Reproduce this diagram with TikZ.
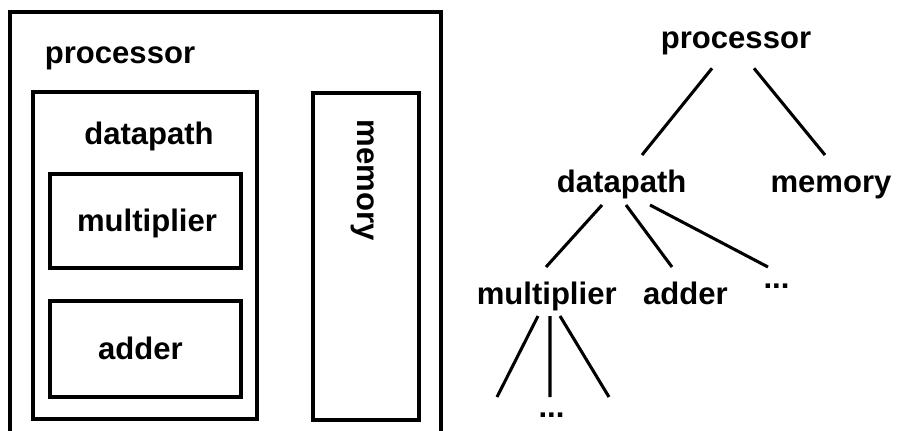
\documentclass[tikz,border=0pt]{standalone}
\usepackage{fontspec}
\setmainfont{Liberation Sans}
\usetikzlibrary{fit,calc}
\begin{document}
\begin{tikzpicture}[x=0.75pt,y=-0.75pt,
  box/.style={draw, line width=3pt, inner sep=0pt},
  lbl/.style={font=\fontsize{23.3}{28}\selectfont\bfseries, inner sep=0pt, anchor=base},
  edge/.style={line width=2.3pt}]
\useasboundingbox (0,0) rectangle (897,430);
\clip (0,0) rectangle (897,430);
% left panel: nested boxes
\node[box, fit={(9.5,12) (441,460)}] (outer) {};
\node[box, fit={(33,92) (257,419)}] (dpbox) {};
\node[box, fit={(50,174) (241,267.5)}] (mulbox) {};
\node[box, fit={(50,301) (241,396.5)}] (addbox) {};
\node[box, fit={(313,93) (419,420)}] (membox) {};
\node[lbl] (lproc) at (120,63.3) {processor};
\node[lbl] (ldp) at (149,144) {datapath};
\node[lbl] (lmul) at (147,231.7) {multiplier};
\node[lbl] (ladd) at (140.5,359.3) {adder};
\node[lbl, rotate=-90] (lmem) at (357,180) {memory};
% right panel: tree
\node[lbl] (tp) at (736,48.3) {processor};
\node[lbl] (td) at (621.7,192.7) {datapath};
\node[lbl] (tm) at (831,192.7) {memory};
\node[lbl] (tmul) at (546.7,304) {multiplier};
\node[lbl] (tadd) at (685.5,304) {adder};
\node[lbl] (tdots) at (776.5,288.3) {...};
\node[lbl] (tdd) at (551.5,417) {...};
\draw[edge] ($(tp.base)+(-24,20)$) -- ($(td.base)+(20.3,-37.7)$);
\draw[edge] ($(tp.base)+(18,20)$) -- ($(tm.base)+(-6,-37.7)$);
\draw[edge] ($(td.base)+(-19.7,12.3)$) -- ($(tmul.base)+(-0.7,-37)$);
\draw[edge] ($(td.base)+(4.3,12.3)$) -- ($(tadd.base)+(-13.5,-37)$);
\draw[edge] ($(td.base)+(28.3,12.3)$) -- ($(tdots.base)+(-8.5,-21.3)$);
\draw[edge] ($(tmul.base)+(-8.7,12)$) -- ($(tdd.base)+(-54.5,-20)$);
\draw[edge] ($(tmul.base)+(3.3,12)$) -- ($(tdd.base)+(-1.5,-20)$);
\draw[edge] ($(tmul.base)+(13.3,12)$) -- ($(tdd.base)+(57.5,-20)$);
\end{tikzpicture}
\end{document}
